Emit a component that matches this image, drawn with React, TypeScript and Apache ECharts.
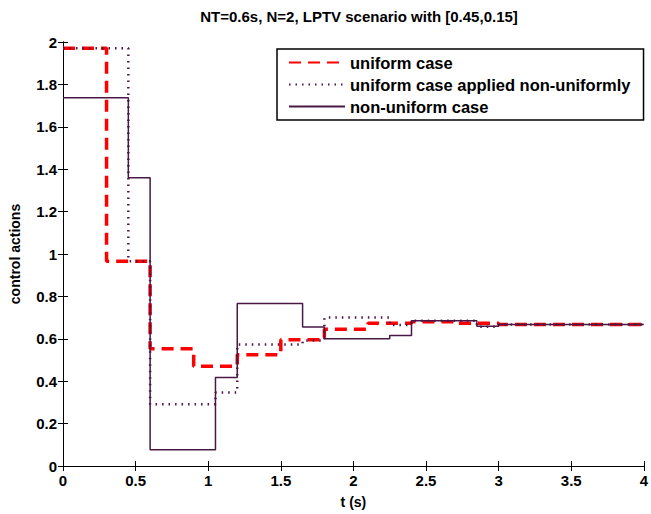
import React, { useEffect, useRef } from "react";
import * as echarts from "echarts";

const titleText = "NT=0.6s, N=2, LPTV scenario with [0.45,0.15]";
const seriesNames = ["uniform case", "uniform case applied non-uniformly", "non-uniform case"];

// switching instants
const uniformTimes = [0, 0.3, 0.6, 0.9, 1.2, 1.5, 1.8, 2.1, 2.4, 2.7, 3.0, 3.3, 3.6, 3.9, 4.0];
const nonUniformTimes = [0, 0.45, 0.6, 1.05, 1.2, 1.65, 1.8, 2.25, 2.4, 2.85, 3.0, 3.45, 3.6, 4.0];

// held control values (last entry repeats to close the step at t=4)
const uniformValues = [1.97, 0.966, 0.553, 0.47, 0.525, 0.595, 0.645, 0.673, 0.68, 0.673, 0.668, 0.667, 0.667, 0.667, 0.667];
const appliedValues = [1.97, 0.966, 0.291, 0.347, 0.573, 0.592, 0.70, 0.665, 0.685, 0.657, 0.667, 0.667, 0.667, 0.667];
const nonUniformValues = [1.737, 1.36, 0.077, 0.418, 0.766, 0.656, 0.60, 0.615, 0.685, 0.659, 0.667, 0.667, 0.667, 0.667];

const xTicksInterval = 0.5;
const yTicksInterval = 0.2;

const FONT = "'Liberation Sans', Arial, Helvetica, sans-serif";
const PURPLE = "#4a1846";

const zip = (t: number[], v: number[]) => t.map((x, i) => [x, v[i]]);

export default function App() {
  const ref = useRef<HTMLDivElement>(null);
  useEffect(() => {
    if (!ref.current) return;
    const chart = echarts.init(ref.current, null, { renderer: "svg" });
    const axisLine = { show: true, lineStyle: { color: "#000", width: 1 } };
    const axisTick = { show: true, inside: true, length: 5, lineStyle: { color: "#000" } };
    const labelStyle = { color: "#000", fontFamily: FONT, fontWeight: "bold" as const, fontSize: 15 };
    const nameStyle = { color: "#000", fontFamily: FONT, fontWeight: "bold" as const, fontSize: 14 };
    chart.setOption({
      animation: false,
      backgroundColor: "#fff",
      title: {
        text: titleText,
        left: 354,
        textAlign: "center",
        top: 4,
        textStyle: { color: "#000", fontFamily: FONT, fontWeight: "bold", fontSize: 15 },
      },
      grid: { left: 63, right: 6, top: 42, bottom: 44, containLabel: false },
      legend: {
        orient: "vertical",
        left: 277,
        top: 49,
        data: seriesNames,
        backgroundColor: "#fff",
        borderColor: "#000",
        borderWidth: 1.5,
        borderRadius: 0,
        padding: [5, 13, 5, 11],
        itemGap: 5,
        itemWidth: 56,
        itemHeight: 16,
        itemStyle: { opacity: 0, borderWidth: 0 },
        textStyle: { color: "#000", fontFamily: FONT, fontWeight: "bold", fontSize: 16.5 },
      },
      xAxis: [
        {
          type: "value",
          min: 0,
          max: 4,
          interval: xTicksInterval,
          name: "t (s)",
          nameLocation: "middle",
          nameGap: 29,
          nameTextStyle: nameStyle,
          axisLine,
          axisTick,
          splitLine: { show: false },
          axisLabel: { ...labelStyle, margin: 7 },
        },
        {
          type: "value",
          position: "top",
          min: 0,
          max: 4,
          interval: xTicksInterval,
          axisLine,
          axisTick,
          splitLine: { show: false },
          axisLabel: { show: false },
        },
      ],
      yAxis: [
        {
          type: "value",
          min: 0,
          max: 2,
          interval: yTicksInterval,
          name: "control actions",
          nameLocation: "middle",
          nameGap: 41,
          nameTextStyle: nameStyle,
          axisLine,
          axisTick,
          splitLine: { show: false },
          axisLabel: { ...labelStyle, margin: 6 },
        },
        {
          type: "value",
          position: "right",
          min: 0,
          max: 2,
          interval: yTicksInterval,
          axisLine,
          axisTick,
          splitLine: { show: false },
          axisLabel: { show: false },
        },
      ],
      series: [
        {
          name: seriesNames[0],
          type: "line",
          step: "end",
          showSymbol: false,
          symbol: "none",
          data: zip(uniformTimes, uniformValues),
          lineStyle: { color: "#ff0000", width: 3.5, type: [12, 7] },
          itemStyle: { color: "#ff0000" },
          z: 3,
        },
        {
          name: seriesNames[1],
          type: "line",
          step: "end",
          showSymbol: false,
          symbol: "none",
          data: zip(nonUniformTimes, appliedValues),
          lineStyle: { color: PURPLE, width: 2.5, type: [1.5, 5] },
          itemStyle: { color: PURPLE },
          z: 4,
        },
        {
          name: seriesNames[2],
          type: "line",
          step: "end",
          showSymbol: false,
          symbol: "none",
          data: zip(nonUniformTimes, nonUniformValues),
          lineStyle: { color: PURPLE, width: 1.5, type: "solid" },
          itemStyle: { color: PURPLE },
          z: 5,
        },
      ],
    });
    return () => chart.dispose();
  }, []);
  return <div ref={ref} style={{ width: 651, height: 514, position: "absolute", left: 0, top: 0 }} />;
}
